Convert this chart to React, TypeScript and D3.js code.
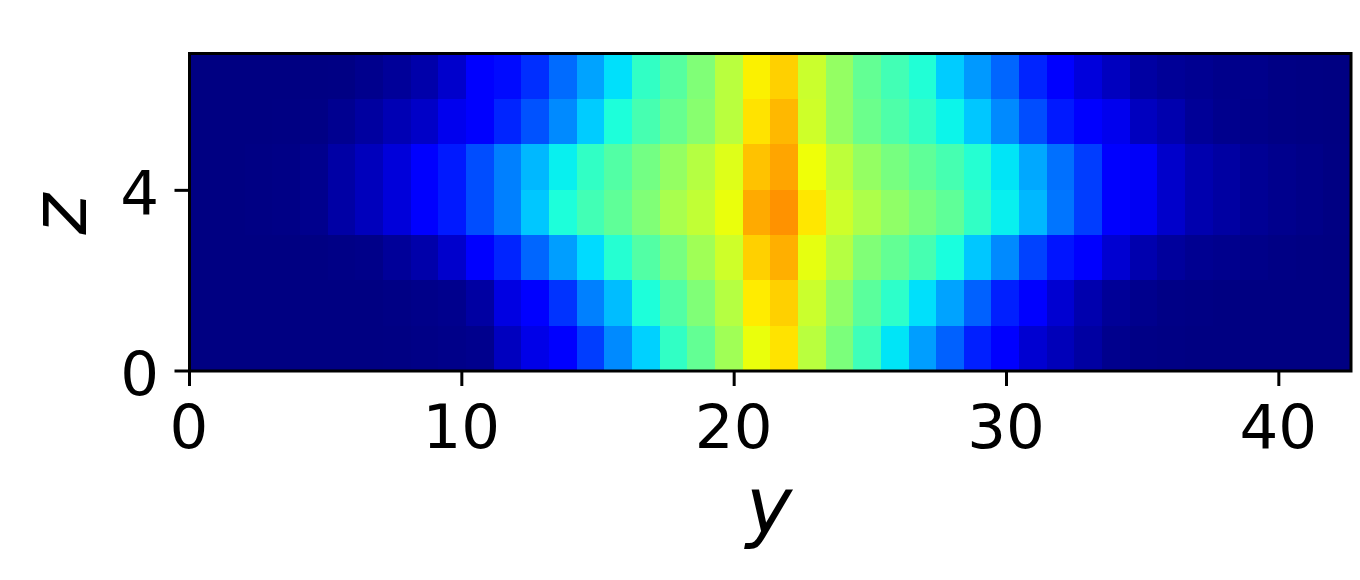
import React from "react";
import * as d3 from "d3";

// Field values (0..1 on the jet colormap), one array per row, from the top row to the bottom row
const row6 = [.002,.002,.002,.002,.003,.004,.012,.022,.037,.066,.12,.135,.17,.23,.285,.345,.41,.455,.505,.575,.655,.69,.595,.53,.47,.43,.39,.325,.275,.225,.16,.115,.08,.055,.03,.02,.015,.01,.01,.005,.003,.002];
const row5 = [.002,.002,.002,.003,.005,.014,.028,.045,.062,.095,.12,.16,.205,.26,.325,.385,.435,.475,.515,.575,.67,.715,.6,.53,.48,.445,.41,.365,.32,.26,.2,.15,.115,.095,.055,.04,.02,.012,.008,.005,.003,.002];
const row4 = [.002,.002,.004,.006,.012,.032,.052,.078,.112,.15,.2,.25,.305,.36,.41,.45,.49,.53,.57,.62,.705,.735,.64,.58,.53,.495,.465,.435,.395,.35,.29,.235,.185,.12,.105,.065,.04,.03,.018,.012,.007,.003];
const row3 = [.002,.002,.004,.006,.012,.032,.052,.078,.112,.15,.2,.25,.32,.385,.43,.465,.505,.555,.585,.635,.73,.755,.665,.6,.56,.525,.495,.465,.41,.36,.305,.24,.185,.12,.1,.065,.04,.03,.018,.012,.007,.003];
const row2 = [.002,.002,.002,.002,.003,.006,.008,.022,.037,.066,.125,.16,.225,.28,.34,.395,.45,.495,.545,.6,.69,.725,.63,.57,.505,.47,.435,.38,.32,.26,.19,.145,.11,.07,.04,.025,.015,.012,.008,.005,.003,.002];
const row1 = [.002,.002,.002,.002,.002,.002,.002,.005,.008,.012,.03,.085,.115,.175,.25,.31,.385,.45,.505,.57,.66,.69,.595,.525,.46,.405,.345,.285,.22,.155,.115,.07,.04,.02,.012,.006,.004,.002,.002,.002,.002,.002];
const row0 = [.002,.002,.002,.002,.002,.002,.002,.003,.006,.008,.012,.055,.09,.12,.185,.26,.33,.41,.47,.545,.635,.67,.575,.5,.425,.35,.28,.22,.155,.12,.07,.05,.03,.012,.006,.004,.002,.002,.002,.002,.002,.002];
const rows = [row6, row5, row4, row3, row2, row1, row0];

const xTicks = [0, 10, 20, 30, 40];
const yTicks = [0, 4];
const xMax = 42.65;
const yMax = 7.03;

const left = 189.5, right = 1351, top = 53.5, bottom = 371;
const x = d3.scaleLinear().domain([0, xMax]).range([left, right]);
const y = d3.scaleLinear().domain([0, yMax]).range([bottom, top]);

const red = d3.scaleLinear<number>().domain([0, .35, .66, .89, 1]).range([0, 0, 1, 1, .5]).clamp(true);
const green = d3.scaleLinear<number>().domain([0, .125, .375, .64, .91, 1]).range([0, 0, 1, 1, 0, 0]).clamp(true);
const blue = d3.scaleLinear<number>().domain([0, .11, .34, .65, 1]).range([.5, 1, 1, 0, 0]).clamp(true);
const jet = (v: number) => d3.rgb(red(v) * 255, green(v) * 255, blue(v) * 255).toString();

const font = "'DejaVu Sans', sans-serif";
const nCols = row0.length;
const nRows = rows.length;
const colW = xMax / nCols;
const rowH = yMax / nRows;

export default function App() {
  return (
    <svg width={1360} height={580} style={{ position: "absolute", left: 0, top: 0, background: "#fff" }}>
      <g shapeRendering="crispEdges">
        {rows.map((row, r) =>
          row.map((v, c) => {
            const x0 = x(c * colW), x1 = x((c + 1) * colW);
            const y0 = y((nRows - r) * rowH), y1 = y((nRows - r - 1) * rowH);
            return <rect key={`${r}-${c}`} x={x0} y={y0} width={x1 - x0 + 0.5} height={y1 - y0 + 0.5} fill={jet(v)} />;
          })
        )}
      </g>
      <rect x={left} y={top} width={right - left} height={bottom - top} fill="none" stroke="#000" strokeWidth={3} />
      {xTicks.map((t) => (
        <g key={t}>
          <line x1={x(t)} x2={x(t)} y1={bottom} y2={bottom + 15} stroke="#000" strokeWidth={3} />
          <text x={x(t) - 0.5} y={448} textAnchor="middle" fontFamily={font} fontSize={61}>{t}</text>
        </g>
      ))}
      {yTicks.map((t) => (
        <g key={t}>
          <line x1={left - 15} x2={left} y1={y(t)} y2={y(t)} stroke="#000" strokeWidth={3} />
          <text x={159} y={y(t) + 23.5} textAnchor="end" fontFamily={font} fontSize={61}>{t}</text>
        </g>
      ))}
      <text x={769} y={533} textAnchor="middle" fontFamily={font} fontStyle="italic" fontSize={78}>y</text>
      <text transform="translate(86,214) rotate(-90)" textAnchor="middle" fontFamily={font} fontStyle="italic" fontSize={78}>z</text>
    </svg>
  );
}
